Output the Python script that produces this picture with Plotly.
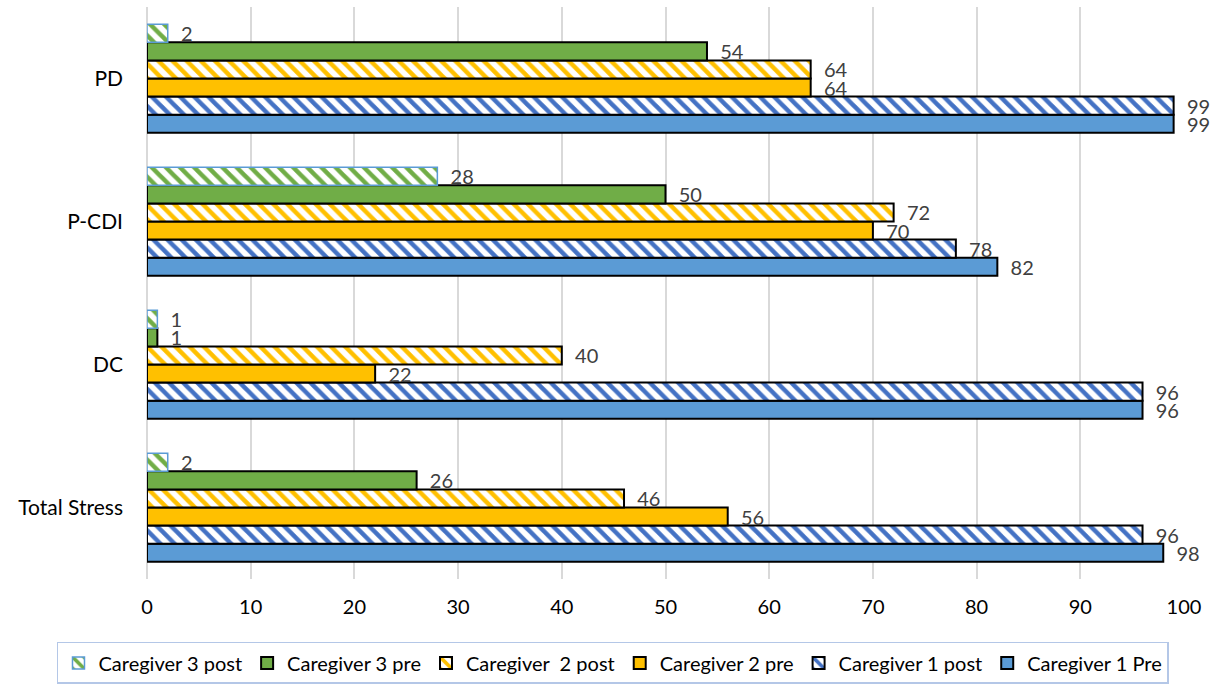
import plotly.graph_objects as go

# Scale categories, listed bottom to top on the chart
categories = ["Total Stress", "DC", "P-CDI", "PD"]

# Scores per caregiver and assessment time
cg1_pre = [98, 96, 82, 99]
cg1_post = [96, 96, 78, 99]
cg2_pre = [56, 22, 70, 64]
cg2_post = [46, 40, 72, 64]
cg3_pre = [26, 1, 50, 54]
cg3_post = [2, 1, 28, 2]

series_names = [
    "Caregiver 1 Pre",
    "Caregiver 1 post",
    "Caregiver 2 pre",
    "Caregiver\u00a0 2 post",
    "Caregiver 3 pre",
    "Caregiver 3 post",
]

BLUE = "#5B9BD5"
DARK_BLUE = "#4472C4"
ORANGE = "#FFC000"
GREEN = "#70AD47"

styles = [
    dict(color=BLUE, hatch=None, line="#000000", lw=2),
    dict(color=DARK_BLUE, hatch="\\", line="#000000", lw=2),
    dict(color=ORANGE, hatch=None, line="#000000", lw=2),
    dict(color=ORANGE, hatch="\\", line="#000000", lw=2),
    dict(color=GREEN, hatch=None, line="#000000", lw=2),
    dict(color=GREEN, hatch="\\", line=BLUE, lw=1.5),
]

values = [cg1_pre, cg1_post, cg2_pre, cg2_post, cg3_pre, cg3_post]

FONT = "Lato, 'Open Sans', sans-serif"

fig = go.Figure()
for name, vals, st in zip(series_names, values, styles):
    if st["hatch"]:
        marker = dict(
            color=st["color"],
            pattern=dict(shape=st["hatch"], fgcolor=st["color"], bgcolor="white",
                         size=10, solidity=0.45, fillmode="replace"),
            line=dict(color=st["line"], width=st["lw"]),
        )
    else:
        marker = dict(color=st["color"], line=dict(color=st["line"], width=st["lw"]))
    fig.add_trace(go.Bar(
        name=name,
        y=categories,
        x=vals,
        orientation="h",
        marker=marker,
        text=[f"  {v}" for v in vals],
        textposition="outside",
        textfont=dict(family=FONT, size=20, color="#404040"),
        constraintext="none",
        cliponaxis=False,
    ))

fig.update_layout(
    width=1231,
    height=684,
    paper_bgcolor="white",
    plot_bgcolor="white",
    barmode="group",
    bargap=0.24,
    bargroupgap=0,
    margin=dict(l=147, r=47, t=7, b=105, autoexpand=False),
    font=dict(family=FONT, size=20, color="#000000"),
    xaxis=dict(
        range=[0, 100],
        dtick=10,
        showgrid=True,
        gridcolor="#D9D9D9",
        gridwidth=2,
        zeroline=True,
        zerolinecolor="#D9D9D9",
        zerolinewidth=2,
        showline=False,
        ticks="",
        ticklabelstandoff=14,
        tickfont=dict(family=FONT, size=20, color="#000000"),
    ),
    yaxis=dict(
        range=[-0.5, 3.5],
        showgrid=False,
        showline=False,
        ticks="",
        ticklabelstandoff=23,
        tickfont=dict(family=FONT, size=21, color="#000000"),
    ),
    legend=dict(
        orientation="h",
        traceorder="reversed",
        x=-0.0868,
        xanchor="left",
        y=-0.110,
        yanchor="top",
        bordercolor="#B4C7E7",
        borderwidth=1.5,
        font=dict(family=FONT, size=20, color="#000000"),
        itemwidth=30,
        tracegroupgap=0,
    ),
)

fig.write_html("out.html")
